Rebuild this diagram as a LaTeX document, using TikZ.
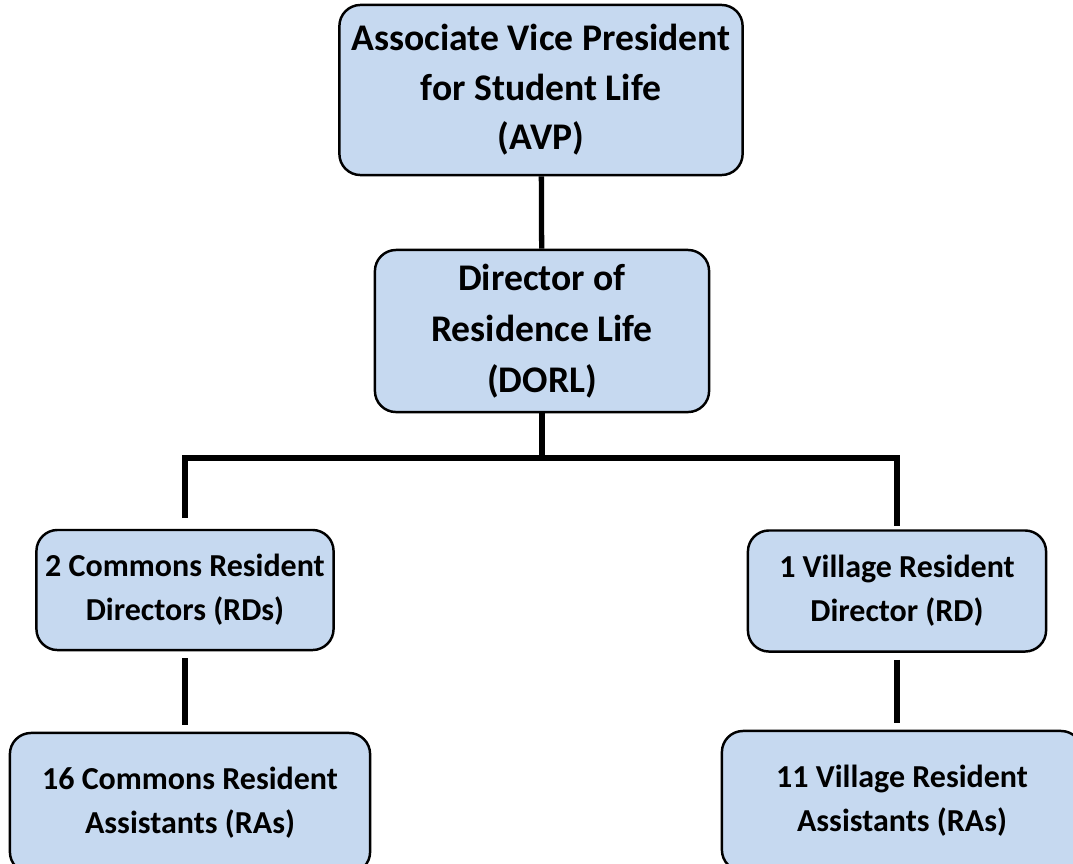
\documentclass[tikz,border=0pt]{standalone}
\usepackage{fontspec}
\setmainfont{Carlito}
\definecolor{boxblue}{RGB}{198,217,240}
\tikzset{
  orgbox/.style={draw=black, line width=0.7pt, fill=boxblue, rounded corners=6pt,
    align=center, font=\fontsize{9.1}{12.5}\selectfont\bfseries, inner sep=0pt},
  topbox/.style={orgbox, font=\fontsize{10.7}{14.1}\selectfont\bfseries},
  link/.style={line width=1.5pt}
}

\begin{document}
\begin{tikzpicture}[x=0.01cm, y=-0.01cm]
    \useasboundingbox (0,0) rectangle (1073,863);
    \clip (0,0) rectangle (1073,863);
    \node[topbox, minimum width=4.03cm, minimum height=1.70cm, text depth=0.06cm] (avp) at (541,90) {Associate Vice President\\for Student Life\\(AVP)};
    \node[topbox, minimum width=3.34cm, minimum height=1.62cm, font=\fontsize{10.7}{14.5}\selectfont\bfseries] (dorl) at (542,331) {Director of\\Residence Life\\(DORL)};
    \node[orgbox, minimum width=2.97cm, minimum height=1.20cm] (crd) at (185,590) {2 Commons Resident\\Directors (RDs)};
    \node[orgbox, minimum width=2.98cm, minimum height=1.21cm] (vrd) at (897,591) {1 Village Resident\\Director (RD)};
    \node[orgbox, minimum width=3.60cm, minimum height=1.40cm] (cra) at (190,803) {16 Commons Resident\\Assistants (RAs)};
    \node[orgbox, minimum width=3.60cm, minimum height=1.40cm] (vra) at (902,801) {11 Village Resident\\Assistants (RAs)};
    \coordinate (split) at (542,458);
    \draw[link] (avp) -- (dorl);
    \draw[link] (dorl) -- (split);
    \draw[link, shorten <=3pt] (crd) |- (split) -| ([yshift=1pt]vrd.north);
    \draw[link, shorten <=2pt, shorten >=2pt] (crd.south) -- (crd.south |- cra.north);
    \draw[link, shorten <=2pt, shorten >=2pt] (vrd.south) -- (vrd.south |- vra.north);
\end{tikzpicture}
\end{document}
